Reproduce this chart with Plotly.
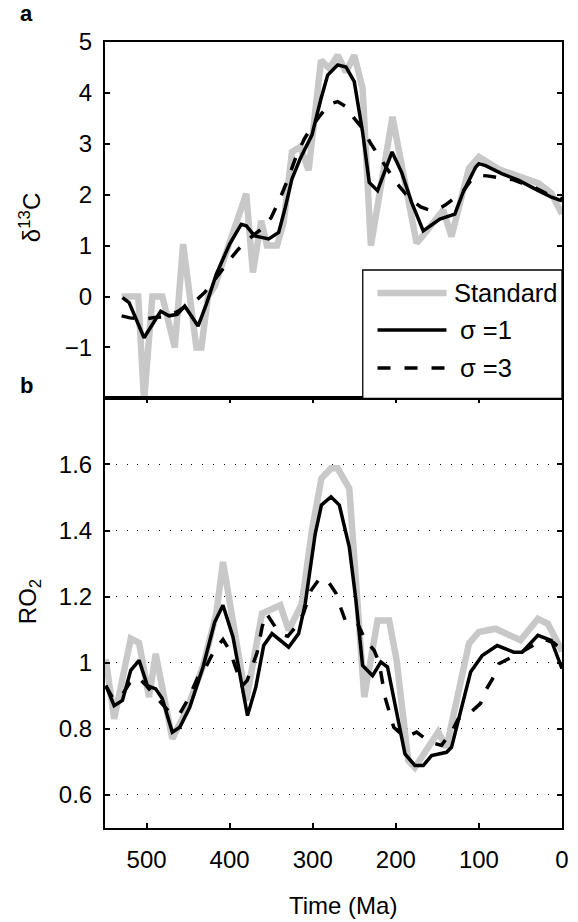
import plotly.graph_objects as go

# ---------------- data ----------------
# Panel a: carbon isotope record (per mil) vs. time (Ma)
t_std_a = [530, 510, 503, 493, 481, 466, 456, 440, 434, 426, 418, 380, 372, 362, 355, 343,
           335, 325, 315, 305, 290, 280, 270, 260, 250, 240, 230, 204, 175, 167, 143, 133,
           112, 100, 76, 60, 28, 13, 0]
d13c_std = [0.0, 0.0, -2.05, 0.0, 0.0, -1.0, 1.03, -1.0, -1.0, 0.0, 0.2, 2.02, 0.47, 1.49, 1.0, 1.0,
            1.45, 2.84, 2.94, 2.48, 4.64, 4.48, 4.74, 4.41, 4.74, 4.09, 1.0, 3.53, 1.05, 1.2, 1.7, 1.18,
            2.52, 2.74, 2.5, 2.41, 2.22, 2.03, 1.62]

t_s1_a = [529, 521, 503, 493, 483, 473, 463, 454, 438, 428, 416, 400, 386, 380, 370, 353, 341,
          333, 325, 315, 301, 290, 282, 270, 260, 250, 240, 232, 222, 204.5, 193, 181, 167, 147,
          129, 119, 104, 100, 92, 72, 52, 28.5, 12.7, 0]
d13c_s1 = [-0.02, -0.12, -0.81, -0.55, -0.29, -0.38, -0.35, -0.19, -0.58, -0.15, 0.44, 1.03, 1.42,
           1.39, 1.19, 1.13, 1.26, 1.75, 2.31, 2.71, 3.17, 3.89, 4.35, 4.55, 4.51, 4.22, 3.23, 2.24,
           2.08, 2.84, 2.44, 1.85, 1.29, 1.52, 1.62, 2.05, 2.54, 2.61, 2.57, 2.41, 2.28, 2.08, 1.95, 1.88]

t_s3_a = list(range(530, -1, -10))
d13c_s3 = [-0.38, -0.42, -0.43, -0.44, -0.41, -0.4, -0.36, -0.27, -0.15, -0.07, 0.08, 0.28, 0.5,
           0.72, 0.92, 1.09, 1.22, 1.35, 1.55, 1.9, 2.3, 2.75, 3.1, 3.36, 3.58, 3.78, 3.83, 3.73,
           3.5, 3.3, 3.0, 2.75, 2.5, 2.25, 2.05, 1.88, 1.76, 1.7, 1.71, 1.8, 1.93, 2.05, 2.27, 2.38,
           2.37, 2.34, 2.32, 2.3, 2.24, 2.2, 2.12, 2.03, 1.97, 1.92]

# Panel b: RO2 (relative atmospheric O2) vs. time (Ma)
t_std_b = [549, 539, 519, 509, 497, 489, 469, 452, 432, 416, 408, 380, 361, 339, 329, 313, 301,
           289.5, 278, 270, 256, 248, 238, 222, 208, 199, 185, 177, 163, 149, 139, 129, 112, 100,
           80, 50, 29, 17, 0]
ro2_std = [1.01, 0.83, 1.073, 1.06, 0.896, 1.027, 0.77, 0.856, 0.99, 1.15, 1.305, 0.886, 1.149,
           1.174, 1.098, 1.179, 1.40, 1.558, 1.588, 1.588, 1.527, 1.219, 0.896, 1.128, 1.128,
           1.007, 0.704, 0.683, 0.734, 0.79, 0.744, 0.865, 1.058, 1.093, 1.103, 1.068, 1.133,
           1.118, 1.035]

t_s1_b = [549, 539, 529, 519, 509, 499, 489, 481, 469, 460, 448, 432, 418, 408, 396, 386, 378.5,
          368.5, 359, 349, 329, 317, 309, 297, 289.5, 278, 268, 256, 248, 240, 228, 218, 210, 189,
          177, 167, 157, 139, 133, 110, 96, 78, 58, 48, 29, 13, 0]
ro2_s1 = [0.931, 0.87, 0.886, 0.977, 1.007, 0.931, 0.921, 0.891, 0.79, 0.805, 0.865, 0.987, 1.123,
          1.174, 1.078, 0.941, 0.84, 0.926, 1.052, 1.088, 1.047, 1.088, 1.179, 1.39, 1.477, 1.502,
          1.477, 1.35, 1.189, 0.992, 0.961, 1.002, 0.987, 0.724, 0.689, 0.689, 0.719, 0.729, 0.744,
          0.972, 1.022, 1.052, 1.032, 1.032, 1.083, 1.068, 0.982]

t_s3_b = [549, 540, 530, 520, 510, 500, 490, 480, 471, 460, 450, 436, 428, 418, 408, 400, 390,
          385, 379, 373, 367, 361, 356, 345, 339, 330, 320, 311, 302, 293, 285, 280, 272, 266, 260,
          246, 236.5, 226, 220, 213, 202.5, 189, 175, 159, 145, 131, 125, 110, 98, 92, 83.5, 76,
          64.5, 50, 30, 20, 10, 0]
ro2_s3 = [0.93, 0.89, 0.9, 0.94, 0.955, 0.93, 0.9, 0.87, 0.846, 0.846, 0.89, 0.968, 0.99, 1.04,
          1.07, 1.037, 0.97, 0.93, 0.946, 0.985, 1.03, 1.107, 1.15, 1.108, 1.088, 1.08, 1.11, 1.15,
          1.219, 1.25, 1.255, 1.24, 1.21, 1.164, 1.122, 1.118, 1.068, 1.037, 1.0, 0.896, 0.805,
          0.774, 0.79, 0.76, 0.75, 0.8, 0.83, 0.85, 0.877, 0.916, 0.952, 0.997, 1.012, 1.03, 1.06,
          1.07, 1.06, 1.04]

series_names = ["Standard", "σ =1", "σ =3"]
time_ticks = [500, 400, 300, 200, 100, 0]
d13c_ticks = [-1, 0, 1, 2, 3, 4, 5]
ro2_ticks = [0.6, 0.8, 1.0, 1.2, 1.4, 1.6]
ro2_ticktext = ["0.6", "0.8", "1", "1.2", "1.4", "1.6"]

# ---------------- styling ----------------
W, H = 578, 922
ML, MR, MT, MB = 105, 9, 42, 94
PW, PH = W - ML - MR, H - MT - MB
SPLIT = (828 - 398.3) / PH          # top of lower panel in paper units

FONT = "Liberation Sans, Arial, Helvetica, sans-serif"
GREY = "#c8c8c8"
styles = [dict(color=GREY, width=6.5),
          dict(color="black", width=3.5),
          dict(color="black", width=3.5, dash="13px,14px")]


def px_x(px):
    return (px - ML) / PW


def px_y(py):
    return (H - MB - py) / PH


fig = go.Figure()
for (t, v), st, nm in zip([(t_std_a, d13c_std), (t_s1_a, d13c_s1), (t_s3_a, d13c_s3)], styles, series_names):
    fig.add_trace(go.Scatter(x=t, y=v, mode="lines", line=st, name=nm,
                             xaxis="x", yaxis="y", showlegend=False))
for (t, v), st, nm in zip([(t_std_b, ro2_std), (t_s1_b, ro2_s1), (t_s3_b, ro2_s3)], styles, series_names):
    fig.add_trace(go.Scatter(x=t, y=v, mode="lines", line=st, name=nm,
                             xaxis="x2", yaxis="y2", showlegend=False))

axis_common = dict(showline=True, linecolor="black", linewidth=2, zeroline=False,
                   tickfont=dict(family=FONT, size=24, color="black"),
                   tickcolor="black", tickwidth=1.5, ticklen=5)

fig.update_layout(
    width=W, height=H,
    margin=dict(l=ML, r=MR, t=MT, b=MB, pad=0),
    paper_bgcolor="white", plot_bgcolor="white",
    font=dict(family=FONT, color="black"),
    showlegend=False,
    xaxis=dict(axis_common, domain=[0, 1], anchor="y", range=[550, 0],
               showticklabels=False, ticks="", showgrid=False, mirror=True, linewidth=1.5),
    yaxis=dict(axis_common, domain=[SPLIT, 1], anchor="x", range=[-2, 5],
               tickvals=d13c_ticks, ticks="inside", mirror="ticks", showgrid=False,
               ticklabelstandoff=6),
    xaxis2=dict(axis_common, domain=[0, 1], anchor="y2", range=[550, 0],
                tickvals=time_ticks, ticks="inside", mirror="ticks", showgrid=False,
                ticklabelstandoff=9),
    yaxis2=dict(axis_common, domain=[0, SPLIT], anchor="x2", range=[0.5, 1.8],
                tickvals=ro2_ticks, ticktext=ro2_ticktext, ticks="inside", mirror="ticks",
                showgrid=True, gridcolor="black", gridwidth=1, griddash="1px,9.8px",
                ticklabelstandoff=6),
)

annotations = [
    dict(text="δ<sup>13</sup>C", x=px_x(29), y=px_y(218), textangle=-90, font=dict(size=24)),
    dict(text="RO<sub>2</sub>", x=px_x(28), y=px_y(602), textangle=-90, font=dict(size=24)),
    dict(text="Time (Ma)", x=px_x(347), y=px_y(905), font=dict(size=24)),
    dict(text="<b>a</b>", x=px_x(25), y=px_y(13), font=dict(size=22)),
    dict(text="<b>b</b>", x=px_x(25), y=px_y(385), font=dict(size=22)),
]
for a in annotations:
    a.update(xref="paper", yref="paper", showarrow=False, xanchor="center", yanchor="middle")
    a["font"].update(family=FONT, color="black")
    fig.add_annotation(**a)

# legend box drawn inside the lower right corner of panel a
shapes = [dict(type="rect", xref="paper", yref="paper",
               x0=px_x(366.7), x1=1.0, y0=SPLIT, y1=px_y(270),
               line=dict(color="black", width=1.3), fillcolor="white", layer="above")]
legend_rows = [293, 330, 368]
legend_text_x = [457, 463, 463]
for row, st, nm, tx in zip(legend_rows, styles, series_names, legend_text_x):
    shapes.append(dict(type="line", xref="paper", yref="paper",
                       x0=px_x(381.7), x1=px_x(451.7), y0=px_y(row), y1=px_y(row),
                       line=st, layer="above"))
    fig.add_annotation(text=nm, xref="paper", yref="paper", x=px_x(tx), y=px_y(row),
                       xanchor="left", yanchor="middle", showarrow=False,
                       font=dict(family=FONT, size=25.5, color="black"))
fig.update_layout(shapes=shapes)

fig.write_html("out.html")
